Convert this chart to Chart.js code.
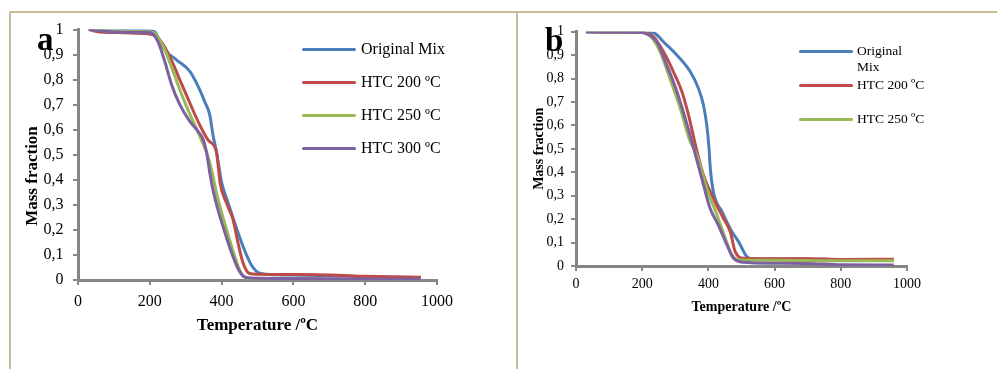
<!DOCTYPE html>
<html>
<head>
<meta charset="utf-8">
<script src="https://cdn.jsdelivr.net/npm/chart.js"></script>
<style>
  html, body { margin: 0; padding: 0; background: #fff; }
  body { width: 997px; height: 369px; position: relative; overflow: hidden; font-family: "Liberation Serif", serif; color: #000; }
  .frame { position: absolute; left: 9px; top: 11px; width: 1000px; height: 400px; border-left: 2px solid #c6bb9b; border-top: 2px solid #c6bb9b; }
  .divider { position: absolute; left: 516px; top: 11px; width: 2px; height: 370px; background: #c6bb9b; }
  canvas { position: absolute; top: 0; }
  .tag { position: absolute; font-weight: bold; font-size: 33px; line-height: 33px; }
  .item { position: absolute; display: flex; align-items: flex-start; }
  .swatch { width: 54px; height: 3px; border-radius: 1.5px; flex: none; }
</style>
</head>
<body>
<div class="frame"></div>
<div class="divider"></div>
<canvas id="chartA" width="516" height="369" style="left:0"></canvas>
<canvas id="chartB" width="480" height="369" style="left:517px"></canvas>
<div class="tag" style="left:37px; top:23px">a</div>
<div class="tag" style="left:545px; top:24px">b</div>
<div id="legendA"></div>
<div id="legendB"></div>
<script>
const seriesNames = ['Original Mix', 'HTC 200 ºC', 'HTC 250 ºC', 'HTC 300 ºC'];
const seriesColors = ['#4a7ebb', '#be4b48', '#98b954', '#7d60a0'];
const xTicks = [0, 200, 400, 600, 800, 1000];
const xTickLabels = ['0', '200', '400', '600', '800', '1000'];
const yTicks = [0, 0.1, 0.2, 0.3, 0.4, 0.5, 0.6, 0.7, 0.8, 0.9, 1];
const yTickLabels = ['0', '0,1', '0,2', '0,3', '0,4', '0,5', '0,6', '0,7', '0,8', '0,9', '1'];

// panel a  -  [temperature ºC, mass fraction]
const aMix = [[30,1],[100,0.997],[200,0.995],[214,0.99],[228,0.955],[242,0.918],[275,0.878],[312,0.832],[335,0.772],[353,0.712],[367,0.659],[376,0.579],[386,0.51],[400,0.39],[420,0.3],[437,0.226],[460,0.133],[483,0.06],[506,0.027],[550,0.021],[600,0.02],[700,0.018],[800,0.013],[955,0.01]];
const a200 = [[30,1],[60,0.99],[100,0.988],[150,0.986],[200,0.982],[210,0.978],[228,0.958],[256,0.891],[284,0.798],[312,0.705],[339,0.619],[362,0.559],[386,0.508],[391,0.45],[396,0.386],[414,0.306],[432,0.24],[446,0.146],[460,0.067],[478,0.026],[500,0.023],[600,0.022],[700,0.02],[800,0.015],[955,0.011]];
const a250 = [[30,1],[100,0.994],[200,0.99],[214,0.985],[242,0.918],[265,0.832],[293,0.725],[321,0.632],[345,0.555],[358,0.51],[372,0.44],[386,0.346],[400,0.27],[414,0.2],[437,0.093],[450,0.04],[460,0.016],[480,0.005],[600,0.003],[955,0.002]];
const a300 = [[30,1],[100,0.99],[190,0.988],[205,0.985],[223,0.951],[242,0.871],[261,0.778],[284,0.699],[312,0.632],[335,0.592],[349,0.56],[358,0.51],[368,0.42],[376,0.36],[390,0.28],[404,0.213],[418,0.15],[432,0.093],[446,0.045],[460,0.016],[480,0.008],[600,0.006],[800,0.004],[955,0.003]];

// panel b
const bMix = [[30,1],[100,0.998],[200,0.998],[234,0.996],[264,0.957],[305,0.9],[345,0.83],[370,0.758],[385,0.687],[395,0.602],[402,0.502],[405,0.431],[415,0.317],[441,0.232],[471,0.146],[491,0.104],[516,0.04],[536,0.03],[600,0.03],[700,0.03],[800,0.027],[960,0.027]];
const b200 = [[30,1],[100,0.998],[200,0.998],[215,0.993],[234,0.979],[264,0.915],[294,0.83],[320,0.744],[340,0.644],[362,0.51],[385,0.388],[415,0.289],[445,0.204],[466,0.146],[481,0.061],[506,0.033],[600,0.031],[700,0.031],[800,0.028],[960,0.029]];
const b250 = [[30,1],[200,0.997],[215,0.99],[234,0.965],[254,0.915],[284,0.8],[315,0.673],[345,0.531],[365,0.474],[395,0.332],[426,0.218],[451,0.118],[471,0.047],[496,0.026],[600,0.025],[800,0.022],[960,0.022]];
const b300 = [[30,1],[200,0.997],[215,0.99],[244,0.957],[274,0.858],[305,0.744],[330,0.63],[353,0.516],[380,0.374],[405,0.246],[430,0.175],[456,0.09],[476,0.033],[506,0.016],[600,0.012],[700,0.011],[800,0.005],[960,0.004]];

const FONT = "'Liberation Serif', serif";
const AXIS = '#868686';

function buildChart(id, series, g) {
  const datasets = series.map((s, i) => ({
    label: seriesNames[i],
    data: s.map(([x, y]) => ({ x, y })),
    borderColor: seriesColors[i],
    borderWidth: 3,
    pointRadius: 0,
    fill: false,
    cubicInterpolationMode: 'monotone',
    order: series.length - i
  }));
  const gridOpts = { display: true, drawOnChartArea: false, drawTicks: true, tickLength: 5, color: AXIS, lineWidth: 2 };
  const borderOpts = { display: true, color: AXIS, width: 3 };
  return new Chart(document.getElementById(id), {
    type: 'line',
    data: { datasets },
    options: {
      responsive: false,
      animation: false,
      devicePixelRatio: 1,
      layout: { padding: { left: 0, top: g.top, right: g.right, bottom: 0 } },
      plugins: { legend: { display: false }, tooltip: { enabled: false } },
      scales: {
        x: {
          type: 'linear', min: 0, max: 1000,
          afterBuildTicks: s => { s.ticks = xTicks.map(v => ({ value: v })); },
          afterFit: s => { s.height = g.xHeight; },
          ticks: { font: { family: FONT, size: g.tickSize }, color: '#000', padding: g.xTickPad, maxRotation: 0, autoSkip: false, callback: (v, i) => xTickLabels[i] },
          grid: gridOpts,
          border: borderOpts,
          title: { display: true, text: 'Temperature /ºC', color: '#000', font: { family: FONT, size: g.titleSize, weight: 'bold' }, padding: { top: 0, bottom: g.xTitlePad } }
        },
        y: {
          type: 'linear', min: 0, max: 1,
          afterBuildTicks: s => { s.ticks = yTicks.map(v => ({ value: v })); },
          afterFit: s => { s.width = g.yWidth; },
          ticks: { font: { family: FONT, size: g.tickSize }, color: '#000', padding: g.yTickPad, autoSkip: false, callback: (v, i) => yTickLabels[i] },
          grid: gridOpts,
          border: borderOpts,
          title: { display: true, text: g.yTitle, color: '#000', font: { family: FONT, size: g.titleSize, weight: 'bold' }, padding: { top: g.yTitlePad, bottom: 0 } }
        }
      }
    }
  });
}

buildChart('chartA', [aMix, a200, a250, a300], {
  top: 29.5, right: 79, xHeight: 89, yWidth: 78,
  tickSize: 16, titleSize: 17, xTickPad: 7.4, yTickPad: 9.5,
  xTitlePad: 32.8, yTitlePad: 22.8,
  yTitle: 'Mass fraction\u2003\u2003\u2002'
});

buildChart('chartB', [bMix, b200, b250, b300], {
  top: 31.7, right: 90, xHeight: 103, yWidth: 59,
  tickSize: 14, titleSize: 14, xTickPad: 4.6, yTickPad: 7,
  xTitlePad: 53.6, yTitlePad: 13.6,
  yTitle: 'Mass fraction'
});

function buildLegend(id, count, left, lineYs, fontSize, lineH, gap, textWidth) {
  const host = document.getElementById(id);
  for (let i = 0; i < count; i++) {
    const item = document.createElement('div');
    item.className = 'item';
    item.style.left = left + 'px';
    item.style.top = (lineYs[i] - lineH / 2) + 'px';
    const sw = document.createElement('div');
    sw.className = 'swatch';
    sw.style.background = seriesColors[i];
    sw.style.marginTop = (lineH / 2 - 1.5) + 'px';
    const tx = document.createElement('div');
    tx.textContent = seriesNames[i];
    tx.style.fontSize = fontSize + 'px';
    tx.style.lineHeight = lineH + 'px';
    tx.style.marginLeft = gap + 'px';
    if (textWidth && i === 0) tx.style.width = textWidth + 'px';
    else tx.style.whiteSpace = 'nowrap';
    item.appendChild(sw);
    item.appendChild(tx);
    host.appendChild(item);
  }
}

buildLegend('legendA', 4, 302, [49, 82, 115, 148], 16, 18, 5, 0);
buildLegend('legendB', 3, 799, [51, 85, 119], 13.5, 16, 4, 55);
</script>
</body>
</html>
